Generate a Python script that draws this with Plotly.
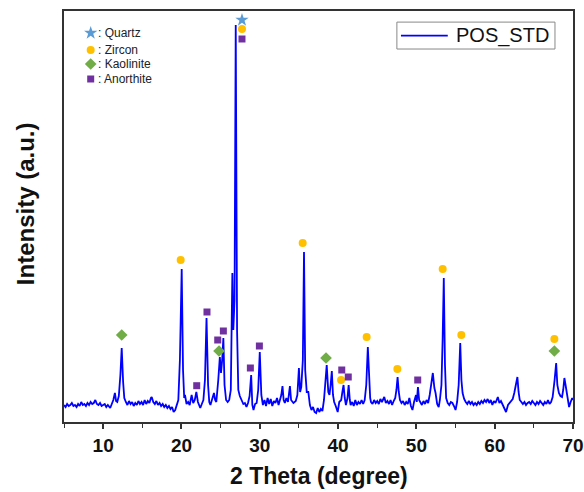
import plotly.graph_objects as go

# ---- XRD pattern ----
two_theta = [
    5.0, 5.2, 5.4, 5.6, 5.8, 6.0, 6.2, 6.4, 6.6, 6.8, 7.0, 7.2, 7.4, 7.6, 7.8, 8.0, 8.2, 8.4, 8.6, 8.8,
    9.0, 9.2, 9.4, 9.6, 9.8, 10.0, 10.2, 10.4, 10.6, 10.9, 11.1, 11.3, 11.5, 11.65, 11.8, 12.0, 12.2, 12.37, 12.55, 12.7,
    12.9, 13.1, 13.3, 13.5, 13.7, 13.9, 14.1, 14.3, 14.5, 14.7, 14.9, 15.1, 15.3, 15.5, 15.7, 15.9, 16.1, 16.2, 16.4, 16.6,
    16.8, 17.0, 17.2, 17.4, 17.6, 17.8, 18.0, 18.2, 18.4, 18.6, 18.8, 19.0, 19.2, 19.4, 19.6, 19.8, 20.03, 20.2, 20.35, 20.45,
    20.65, 20.85, 21.05, 21.3, 21.5, 21.7, 21.9, 22.1, 22.4, 22.6, 22.8, 23.0, 23.2, 23.4, 23.55, 23.7, 23.9, 24.15, 24.3, 24.45,
    24.7, 24.9, 25.05, 25.2, 25.35, 25.5, 25.7, 25.9, 26.1, 26.3, 26.5, 26.62, 26.78, 26.93, 27.1, 27.26, 27.45, 27.7, 27.9, 28.1,
    28.3, 28.5, 28.7, 28.9, 29.05, 29.2, 29.4, 29.6, 29.8, 30.0, 30.2, 30.4, 30.6, 30.8, 31.0, 31.2, 31.4, 31.6, 31.8, 32.0,
    32.2, 32.4, 32.6, 32.75, 32.9, 33.05, 33.2, 33.4, 33.6, 33.85, 34.0, 34.3, 34.6, 34.8, 35.0, 35.15, 35.3, 35.5, 35.65, 35.8,
    36.0, 36.2, 36.4, 36.6, 36.8, 37.0, 37.2, 37.4, 37.6, 37.8, 38.0, 38.2, 38.35, 38.55, 38.75, 38.9, 39.05, 39.2, 39.35, 39.5,
    39.7, 39.95, 40.15, 40.4, 40.55, 40.7, 40.85, 41.0, 41.2, 41.35, 41.5, 41.6, 41.8, 42.0, 42.2, 42.4, 42.6, 42.8, 43.0, 43.2,
    43.4, 43.6, 43.8, 43.95, 44.1, 44.2, 44.4, 44.6, 44.8, 45.0, 45.2, 45.4, 45.6, 45.9, 46.1, 46.3, 46.5, 46.7, 46.9, 47.1,
    47.3, 47.45, 47.6, 47.75, 47.9, 48.1, 48.3, 48.5, 48.7, 48.9, 49.1, 49.3, 49.5, 49.7, 49.95, 50.05, 50.2, 50.35, 50.5, 50.7,
    50.9, 51.1, 51.3, 51.5, 51.7, 51.9, 52.1, 52.3, 52.45, 52.65, 52.85, 53.0, 53.2, 53.35, 53.5, 53.65, 53.8, 54.0, 54.2, 54.4,
    54.6, 54.8, 55.0, 55.2, 55.4, 55.6, 55.75, 55.9, 56.1, 56.3, 56.5, 56.7, 56.9, 57.1, 57.3, 57.5, 57.7, 57.9, 58.1, 58.3,
    58.5, 58.7, 58.9, 59.1, 59.3, 59.5, 59.7, 59.9, 60.1, 60.4, 60.6, 60.8, 61.0, 61.2, 61.45, 61.7, 61.9, 62.1, 62.3, 62.5,
    62.65, 62.9, 63.05, 63.2, 63.4, 63.6, 63.8, 64.0, 64.2, 64.4, 64.6, 64.8, 65.0, 65.2, 65.4, 65.6, 65.8, 66.0, 66.2, 66.4,
    66.6, 66.8, 67.0, 67.2, 67.4, 67.65, 67.85, 68.0, 68.2, 68.4, 68.6, 68.75, 68.9, 69.05, 69.2, 69.35, 69.5, 69.7, 69.9, 70.0,
]
intensity = [
    170, 150, 180, 160, 170, 190, 160, 170, 150, 180, 160, 200, 170, 180, 160, 190, 170, 200, 180, 190,
    220, 180, 170, 190, 160, 170, 180, 150, 170, 140, 180, 220, 290, 210, 200, 260, 470, 740, 400, 240,
    200, 170, 210, 180, 200, 160, 190, 170, 210, 180, 200, 170, 220, 180, 210, 190, 240, 250, 200, 180,
    210, 170, 190, 160, 180, 150, 170, 140, 160, 130, 150, 100, 120, 160, 220, 620, 1530, 520, 240, 270,
    180, 200, 170, 270, 190, 220, 300, 200, 140, 180, 220, 420, 1040, 370, 200, 170, 220, 290, 220, 200,
    420, 650, 490, 620, 840, 370, 220, 200, 220, 320, 1490, 920, 1220, 3970, 920, 320, 260, 220, 180, 190,
    150, 190, 260, 470, 170, 120, 180, 190, 320, 700, 270, 170, 220, 160, 240, 180, 230, 160, 210, 190,
    240, 170, 220, 270, 360, 220, 190, 240, 200, 360, 220, 190, 210, 270, 540, 300, 350, 620, 1700, 520,
    300, 300, 170, 120, 150, 100, 90, 140, 100, 130, 110, 220, 370, 570, 300, 270, 370, 510, 270, 200,
    160, 100, 200, 220, 300, 370, 240, 170, 240, 370, 220, 170, 200, 160, 220, 170, 200, 180, 220, 180,
    220, 370, 750, 420, 240, 200, 180, 220, 190, 210, 180, 230, 200, 250, 190, 210, 180, 220, 170, 210,
    240, 320, 450, 300, 220, 190, 210, 170, 200, 180, 240, 160, 120, 200, 270, 200, 350, 220, 200, 170,
    210, 180, 220, 190, 270, 370, 490, 340, 290, 180, 150, 220, 370, 820, 1440, 570, 240, 190, 170, 200,
    190, 160, 120, 200, 370, 790, 420, 290, 230, 200, 180, 210, 180, 200, 170, 190, 170, 200, 180, 210,
    190, 220, 200, 230, 190, 220, 170, 210, 190, 250, 190, 210, 170, 140, 100, 170, 190, 210, 230, 290,
    350, 450, 300, 220, 200, 180, 200, 170, 190, 200, 180, 210, 190, 170, 200, 180, 210, 190, 170, 200,
    180, 220, 180, 200, 250, 420, 590, 370, 290, 260, 250, 320, 440, 370, 290, 220, 150, 200, 240, 220,
]

# ---- phase markers (2theta, intensity) ----
quartz_x = [27.73]
quartz_y = [4020]
zircon_x = [27.73, 19.9, 35.48, 40.38, 43.65, 47.57, 53.36, 55.74, 67.62]
zircon_y = [3930, 1620, 1790, 420, 850, 530, 1530, 870, 830]
kaolinite_x = [12.37, 24.8, 38.46, 67.62]
kaolinite_y = [870, 710, 640, 710]
anorthite_x = [27.73, 21.95, 23.26, 24.63, 25.35, 28.8, 29.95, 40.47, 41.3, 50.17]
anorthite_y = [3830, 363, 1100, 820, 910, 540, 760, 520, 450, 420]

phase_names = [": Quartz", ": Zircon", ": Kaolinite", ": Anorthite"]
phase_symbols = ["star", "circle", "diamond", "square"]
phase_colors = ["#5b9bd5", "#ffc000", "#70ad47", "#7030a0"]
phase_sizes = [10, 8, 9, 7]
key_x = 8.41
key_text_x = 9.05
key_y = [3890, 3720, 3580, 3430]

series_name = "POS_STD"
x_title = "2 Theta (degree)"
y_title = "Intensity (a.u.)"

FONT = "Liberation Sans, Arial, sans-serif"
TXT = "#111111"

fig = go.Figure()
fig.add_trace(go.Scatter(
    x=two_theta, y=intensity, mode="lines", name=series_name,
    line=dict(color="#0000ff", width=1.8), showlegend=False,
))

phase_data = [(quartz_x, quartz_y), (zircon_x, zircon_y),
              (kaolinite_x, kaolinite_y), (anorthite_x, anorthite_y)]
for (px, py), sym, col, sz in zip(phase_data, phase_symbols, phase_colors, phase_sizes):
    fig.add_trace(go.Scatter(
        x=px, y=py, mode="markers", showlegend=False, hoverinfo="skip",
        marker=dict(symbol=sym, color=col, size=sz, line=dict(width=0)),
    ))

# in-plot key of phases
for name, sym, col, sz, ky in zip(phase_names, phase_symbols, phase_colors, phase_sizes, key_y):
    fig.add_trace(go.Scatter(
        x=[key_x], y=[ky], mode="markers", showlegend=False, hoverinfo="skip",
        marker=dict(symbol=sym, color=col, size=sz, line=dict(width=0)),
    ))
    fig.add_annotation(x=key_text_x, y=ky, text=name, showarrow=False,
                       xanchor="left", yanchor="middle",
                       font=dict(family=FONT, size=12, color="#222222"))

# series legend box (top right)
fig.add_shape(type="rect", xref="paper", yref="paper",
              x0=0.654, x1=0.9646, y0=0.9075, y1=0.973,
              line=dict(color="#888888", width=1), fillcolor="white", layer="above")
fig.add_shape(type="line", xref="paper", yref="paper",
              x0=0.662, x1=0.754, y0=0.940, y1=0.940,
              line=dict(color="#0000ff", width=1.8), layer="above")
fig.add_annotation(xref="paper", yref="paper", x=0.766, y=0.940, text=series_name,
                   showarrow=False, xanchor="left", yanchor="middle",
                   font=dict(family=FONT, size=20, color=TXT))

# axis titles
fig.add_annotation(xref="paper", yref="paper", x=0.5, y=-0.1655, text=x_title,
                   showarrow=False, xanchor="center", yanchor="bottom",
                   borderpad=0,
                   font=dict(family=FONT, size=23, color=TXT, weight="bold"))
fig.add_annotation(xref="paper", yref="paper", x=-0.0766, y=0.53, text=y_title,
                   showarrow=False, xanchor="center", yanchor="middle", textangle=-90,
                   font=dict(family=FONT, size=24, color=TXT, weight="bold"))

fig.update_layout(
    width=584, height=492,
    margin=dict(l=64, r=11, t=11, b=70, autoexpand=False),
    paper_bgcolor="white", plot_bgcolor="white",
    showlegend=False,
)
fig.update_xaxes(
    range=[5, 70], showgrid=False, zeroline=False, automargin=False,
    showline=True, linecolor="#333333", linewidth=1.5, mirror=True,
    ticks="outside", ticklen=5, tickwidth=1.5, tickcolor="#333333",
    tick0=0, dtick=10, ticklabelstandoff=0,
    minor=dict(dtick=5, ticks="outside", ticklen=4, tickwidth=1.2, tickcolor="#333333"),
    tickfont=dict(family=FONT, size=19, color=TXT, weight="bold"),
)
fig.update_yaxes(
    range=[0, 4110], showgrid=False, zeroline=False, automargin=False,
    showline=True, linecolor="#333333", linewidth=1.5, mirror=True,
    showticklabels=False, ticks="",
)

fig.write_html("out.html")
